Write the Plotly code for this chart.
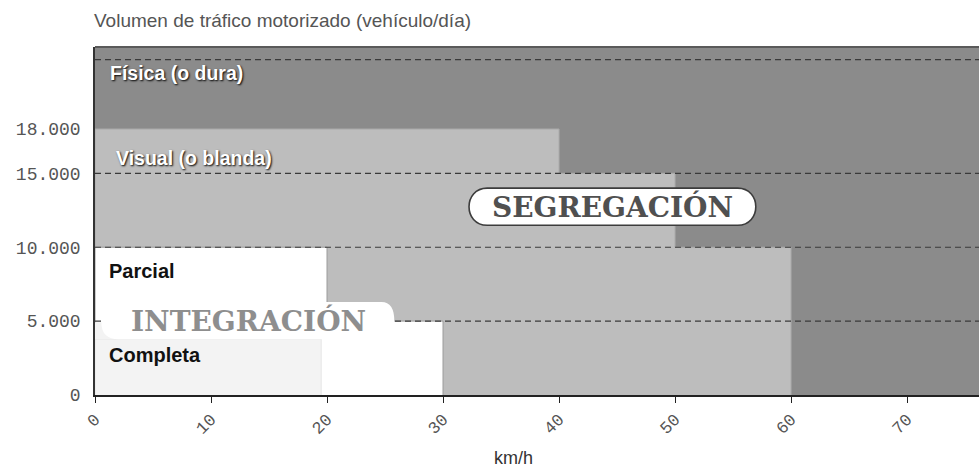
import plotly.graph_objects as go

# ---- data ----
speed_ticks = [0, 10, 20, 30, 40, 50, 60, 70]
volume_ticks = [0, 5000, 10000, 15000, 18000]
volume_tick_labels = ["0", "5.000", "10.000", "15.000", "18.000"]

speed_max = 76.2
volume_max = 23550

# Visual (o blanda) segregation: step boundary
visual_speed_breaks = [0, 40, 50, 60]
visual_volume_steps = [18000, 15000, 10000]

# Parcial integration: step boundary
parcial_speed_breaks = [0, 20, 30]
parcial_volume_steps = [10000, 5000]

# Completa integration
completa_speed = 19.5
completa_volume = 3780

# dashed guide lines
guide_volumes = [5000, 10000, 15000, 22700]

# INTEGRACIÓN tab bounds
tab_speed = [0.55, 25.8]
tab_volume = [3780, 6300]

# SEGREGACIÓN pill bounds
pill_speed = [32.2, 57.0]
pill_volume = [11490, 14000]

DARK = "#8b8b8b"
LIGHT = "#bdbdbd"
COMPLETA = "#f3f3f3"


def step_polygon(breaks, levels):
    xs = [breaks[0]]
    ys = [0]
    for i, lv in enumerate(levels):
        xs += [breaks[i], breaks[i + 1]]
        ys += [lv, lv]
    xs.append(breaks[-1])
    ys.append(0)
    return xs, ys


fig = go.Figure()

vx, vy = step_polygon(visual_speed_breaks, visual_volume_steps)
fig.add_trace(go.Scatter(x=vx, y=vy, fill="toself", fillcolor=LIGHT, mode="lines",
                         line=dict(color="#a9a9a9", width=1), hoverinfo="skip", showlegend=False))

px_, py_ = step_polygon(parcial_speed_breaks, parcial_volume_steps)
fig.add_trace(go.Scatter(x=px_, y=py_, fill="toself", fillcolor="#ffffff", mode="lines",
                         line=dict(color="#9a9a9a", width=1), hoverinfo="skip", showlegend=False))

fig.add_trace(go.Scatter(x=[0, 0, completa_speed, completa_speed], y=[0, completa_volume, completa_volume, 0],
                         fill="toself", fillcolor=COMPLETA, mode="lines",
                         line=dict(color="#e6e6e6", width=1), hoverinfo="skip", showlegend=False))

gx, gy = [], []
for v in guide_volumes:
    gx += [0, speed_max, None]
    gy += [v, v, None]
fig.add_trace(go.Scatter(x=gx, y=gy, mode="lines", line=dict(color="#3a3a3a", width=1.2, dash="6px,4px"),
                         hoverinfo="skip", showlegend=False))

shapes = []
# completa "ear" under the rounded tab corner
rx, ry = 1.5, 1150
shapes.append(dict(type="rect", xref="x", yref="y", x0=0, x1=tab_speed[0] + rx + 0.3,
                   y0=tab_volume[0], y1=4920, fillcolor=COMPLETA, line=dict(width=0), layer="above"))
x0, x1 = tab_speed
y0, y1 = tab_volume
rx2, ry2 = 1.1, 1300
tab_path = (f"M {x0},{y1} L {x0},{y0+ry} Q {x0},{y0} {x0+rx},{y0} L {x1},{y0} "
            f"L {x1},{y1-ry2} Q {x1},{y1} {x1-rx2},{y1} Z")
shapes.append(dict(type="path", xref="x", yref="y", path=tab_path, fillcolor="#ffffff",
                   line=dict(width=0), layer="above"))

# segregación pill
p0, p1 = pill_speed
q0, q1 = pill_volume
prx = 1.6
pill_path = (f"M {p0+prx},{q0} L {p1-prx},{q0} C {p1+0.3*prx},{q0} {p1+0.3*prx},{q1} {p1-prx},{q1} "
             f"L {p0+prx},{q1} C {p0-0.3*prx},{q1} {p0-0.3*prx},{q0} {p0+prx},{q0} Z")
shapes.append(dict(type="path", xref="x", yref="y", path=pill_path, fillcolor="#ffffff",
                   line=dict(color="#3c3c3c", width=1.6), layer="above"))

# top border
shapes.append(dict(type="line", xref="paper", yref="paper", x0=0, x1=1, y0=1, y1=1,
                   line=dict(color="#5a5a5a", width=2), layer="above"))

annotations = []
label_font = dict(family="Liberation Sans, Arial", size=19.5, color="#ffffff", weight="bold",
                  shadow="1px 1px 2px #000")
annotations.append(dict(x=1.1, y=21800, xref="x", yref="y", text="Física (o dura)", showarrow=False,
                        xanchor="left", yanchor="middle", font=label_font))
annotations.append(dict(x=1.6, y=16050, xref="x", yref="y", text="Visual (o blanda)", showarrow=False,
                        xanchor="left", yanchor="middle", font=label_font))
dark_label = dict(family="Liberation Sans, Arial", size=20, color="#111111", weight="bold")
annotations.append(dict(x=1.0, y=8370, xref="x", yref="y", text="Parcial", showarrow=False,
                        xanchor="left", yanchor="middle", font=dark_label))
annotations.append(dict(x=1.0, y=2740, xref="x", yref="y", text="Completa", showarrow=False,
                        xanchor="left", yanchor="middle", font=dark_label))
annotations.append(dict(x=(p0 + p1) / 2, y=(q0 + q1) / 2, xref="x", yref="y", text="SEGREGACIÓN",
                        showarrow=False, xanchor="center", yanchor="middle",
                        font=dict(family="DejaVu Serif", size=28, color="#505050", weight="bold")))
annotations.append(dict(x=13.2, y=5020, xref="x", yref="y", text="INTEGRACIÓN",
                        showarrow=False, xanchor="center", yanchor="middle",
                        font=dict(family="DejaVu Serif", size=28, color="#8e8e8e", weight="bold")))
annotations.append(dict(x=0, y=1, xref="paper", yref="paper", yshift=27, xshift=-3,
                        text="Volumen de tráfico motorizado (vehículo/día)",
                        showarrow=False, xanchor="left", yanchor="middle",
                        font=dict(family="Liberation Sans, Arial", size=19, color="#555555")))
annotations.append(dict(x=36.1, y=0, xref="x", yref="paper", yshift=-63, text="km/h",
                        showarrow=False, xanchor="center", yanchor="middle",
                        font=dict(family="Liberation Sans Narrow, Liberation Sans, Arial", size=18, color="#333333")))

fig.update_layout(
    width=979, height=468,
    margin=dict(l=95, r=0, t=47, b=73),
    paper_bgcolor="#ffffff",
    plot_bgcolor=DARK,
    shapes=shapes,
    annotations=annotations,
    xaxis=dict(range=[0, speed_max], tickvals=speed_ticks, ticks="outside", ticklen=6, tickcolor="#222",
               tickangle=-45, showgrid=False, zeroline=False, showline=True, linecolor="#222", linewidth=1.5,
               automargin=False,
               tickfont=dict(family="Liberation Mono", size=17, color="#555555"), fixedrange=True),
    yaxis=dict(range=[0, volume_max], tickvals=volume_ticks, ticktext=volume_tick_labels, ticks="",
               showgrid=False, zeroline=False, showline=True, linecolor="#333", linewidth=1.5,
               ticklabelstandoff=9, automargin=False,
               tickfont=dict(family="Liberation Mono", size=18, color="#555555"), fixedrange=True),
)

fig.write_html("out.html", post_script="document.body.style.margin='0';",
               config={"displayModeBar": False})
